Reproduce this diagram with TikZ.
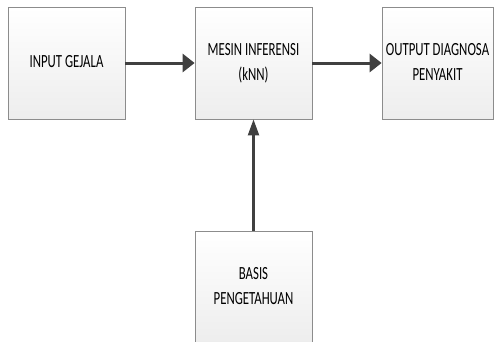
\documentclass[tikz,border=0pt]{standalone}
\usepackage{fontspec}
\setmainfont{Carlito}
\usepackage{graphicx}
\usetikzlibrary{arrows.meta,shadows}

\newcommand{\blocktext}[1]{\scalebox{1}[1.45]{\begin{tabular}{@{}c@{}}#1\end{tabular}}}

\begin{document}
\begin{tikzpicture}[
  x=1pt, y=-1pt,
  block/.style={draw=gray!90, line width=0.8pt, top color=white, bottom color=gray!14,
    minimum width=117pt, minimum height=112pt, inner sep=0pt,
    font=\fontsize{12.8}{17.2}\selectfont,
    drop shadow={shadow xshift=1pt, shadow yshift=-1pt, opacity=0.35}},
  flowh/.style={draw=black!75, line width=3pt, -{Triangle[length=12pt,width=18pt]}},
  flowv/.style={draw=black!75, line width=2.2pt, -{Triangle[length=16pt,width=11pt]}}
]
\useasboundingbox (0,0) rectangle (494,341);
\node[block] (input) at (66.5,63) {\blocktext{INPUT GEJALA}};
\node[block] (mesin) at (253.5,63) {\blocktext{MESIN INFERENSI\\(kNN)}};
\node[block, minimum width=111pt] (output) at (437.5,63) {\blocktext{OUTPUT DIAGNOSA\\PENYAKIT}};
\node[block] (basis) at (253.5,287) {\blocktext{BASIS\\PENGETAHUAN}};
\draw[flowh] (input) -- (mesin);
\draw[flowh] (mesin) -- (output);
\draw[flowv] (basis) -- (mesin);
\end{tikzpicture}
\end{document}
